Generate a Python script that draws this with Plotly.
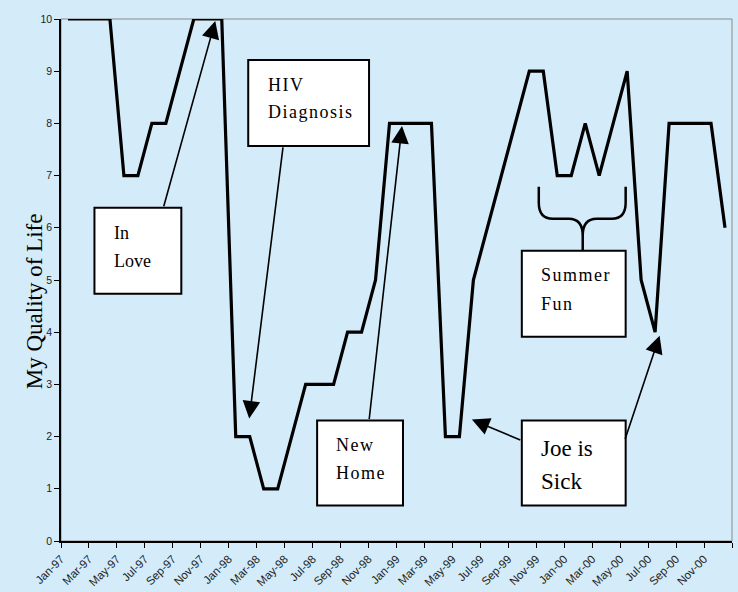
import plotly.graph_objects as go

# ---- data ----
month_names = ["Jan", "Feb", "Mar", "Apr", "May", "Jun", "Jul", "Aug", "Sep", "Oct", "Nov", "Dec"]
years = ["97", "98", "99", "00"]
months = [f"{m}-{y}" for y in years for m in month_names]
quality = [10, 10, 10, 10, 7, 7, 8, 8, 9, 10, 10, 10,
           2, 2, 1, 1, 2, 3, 3, 3, 4, 4, 5, 8,
           8, 8, 8, 2, 2, 5, 6, 7, 8, 9, 9, 7,
           7, 8, 7, 8, 9, 5, 4, 8, 8, 8, 8, 6]
tick_labels = months[::2]

# ---- layout geometry (pixels) ----
W, H = 738, 592
L, R, T, B = 60.5, 732.5, 19, 541.5
XMAX, YMAX = 48, 10
BG = "#D4EBF9"


def dx(px):
    return (px - L) / (R - L) * XMAX


def dy(py):
    return (B - py) / (B - T) * YMAX


def spaced(s):
    return "\u200a".join(s)


xs = [i + 0.5 for i in range(len(quality))]

fig = go.Figure()
fig.add_trace(go.Scatter(x=xs, y=quality, mode="lines",
                         line=dict(color="black", width=3.2),
                         hoverinfo="skip", showlegend=False))

shapes = []
# plot-area frame (gray)
shapes.append(dict(type="rect", xref="paper", yref="paper", x0=0, y0=0, x1=1, y1=1,
                   line=dict(color="#8a8a8a", width=1), layer="below"))

# text boxes
boxes = [
    (94, 208, 181, 294),    # In Love
    (248, 60, 369, 146),    # HIV Diagnosis
    (317, 421, 403, 506),   # New Home
    (522, 421, 626, 506),   # Joe is Sick
    (522, 251, 626, 337),   # Summer Fun
]
for (x0, y0, x1, y1) in boxes:
    shapes.append(dict(type="rect", xref="x", yref="y", x0=dx(x0), x1=dx(x1),
                       y0=dy(y1), y1=dy(y0), fillcolor="white",
                       line=dict(color="black", width=2), layer="above"))

# curly brace above "Summer Fun"
def P(px, py):
    return f"{dx(px):.4f},{dy(py):.4f}"

brace = (f"M {P(539,187)} L {P(539,203)} Q {P(539,219)} {P(553,219)} L {P(569,219)} "
         f"Q {P(583,219)} {P(583,236)} L {P(583,251)} M {P(583,236)} "
         f"Q {P(583,219)} {P(597,219)} L {P(612,219)} Q {P(626,219)} {P(626,203)} L {P(626,187)}")
shapes.append(dict(type="path", xref="x", yref="y", path=brace,
                   line=dict(color="black", width=2.5), layer="above"))

annotations = []
serif = "Liberation Serif, Times New Roman, serif"

# arrows: (tail px, tip px)
arrows = [
    ((163, 208), (215, 21)),
    ((283, 146), (249, 419)),
    ((369, 421), (402, 126)),
    ((522, 441), (472, 420)),
    ((625, 441), (660, 336)),
]
for (tx, ty), (hx, hy) in arrows:
    annotations.append(dict(x=dx(hx), y=dy(hy), ax=dx(tx), ay=dy(ty),
                            xref="x", yref="y", axref="x", ayref="y",
                            text="", showarrow=True, arrowhead=2, arrowsize=2.2,
                            arrowwidth=1.6, arrowcolor="black", standoff=0))

# text lines: (text, left px, center px, size)
lines = [
    ("In", 112, 233, 18), ("Love", 112, 261, 18),
    (spaced("HIV"), 266, 85, 18), (spaced("Diagnosis"), 266, 112, 18),
    (spaced("New"), 334, 445, 18), (spaced("Home"), 334, 473, 18),
    ("Joe is", 539, 449, 23), ("Sick", 539, 482, 23),
    (spaced("Summer"), 539, 275, 18), (spaced("Fun"), 539, 304, 18),
]
for txt, px, py, sz in lines:
    annotations.append(dict(x=dx(px), y=dy(py), xref="x", yref="y", text=txt,
                            showarrow=False, xanchor="left", yanchor="middle",
                            font=dict(family=serif, size=sz, color="black")))

# y-axis title
annotations.append(dict(x=(34 - L) / (R - L), y=(B - 302) / (B - T), xref="paper", yref="paper",
                        text="My Quality of Life", textangle=-90, showarrow=False,
                        xanchor="center", yanchor="middle",
                        font=dict(family=serif, size=23, color="black")))

fig.update_layout(
    width=W, height=H,
    margin=dict(l=L, r=W - R, t=T, b=H - B, pad=0, autoexpand=False),
    paper_bgcolor=BG, plot_bgcolor=BG,
    shapes=shapes, annotations=annotations,
    xaxis=dict(range=[0, XMAX], tickmode="array", automargin=False,
               tickvals=list(range(0, XMAX + 1, 2)),
               ticktext=tick_labels + [""],
               tickangle=-45, ticks="outside", ticklen=5, tickcolor="black",
               showline=True, linecolor="black", linewidth=1.5,
               showgrid=False, zeroline=False,
               tickfont=dict(family="Liberation Sans Narrow, Liberation Sans, Arial", size=11.5, color="#222")),
    yaxis=dict(range=[0, YMAX], tickmode="array", tickvals=list(range(0, 11)), automargin=False,
               ticks="outside", ticklen=5, tickcolor="black",
               showline=True, linecolor="black", linewidth=1.5,
               showgrid=False, zeroline=False,
               tickfont=dict(family="Liberation Sans Narrow, Liberation Sans, Arial", size=10.5, color="#222")),
)

fig.write_html("out.html")
